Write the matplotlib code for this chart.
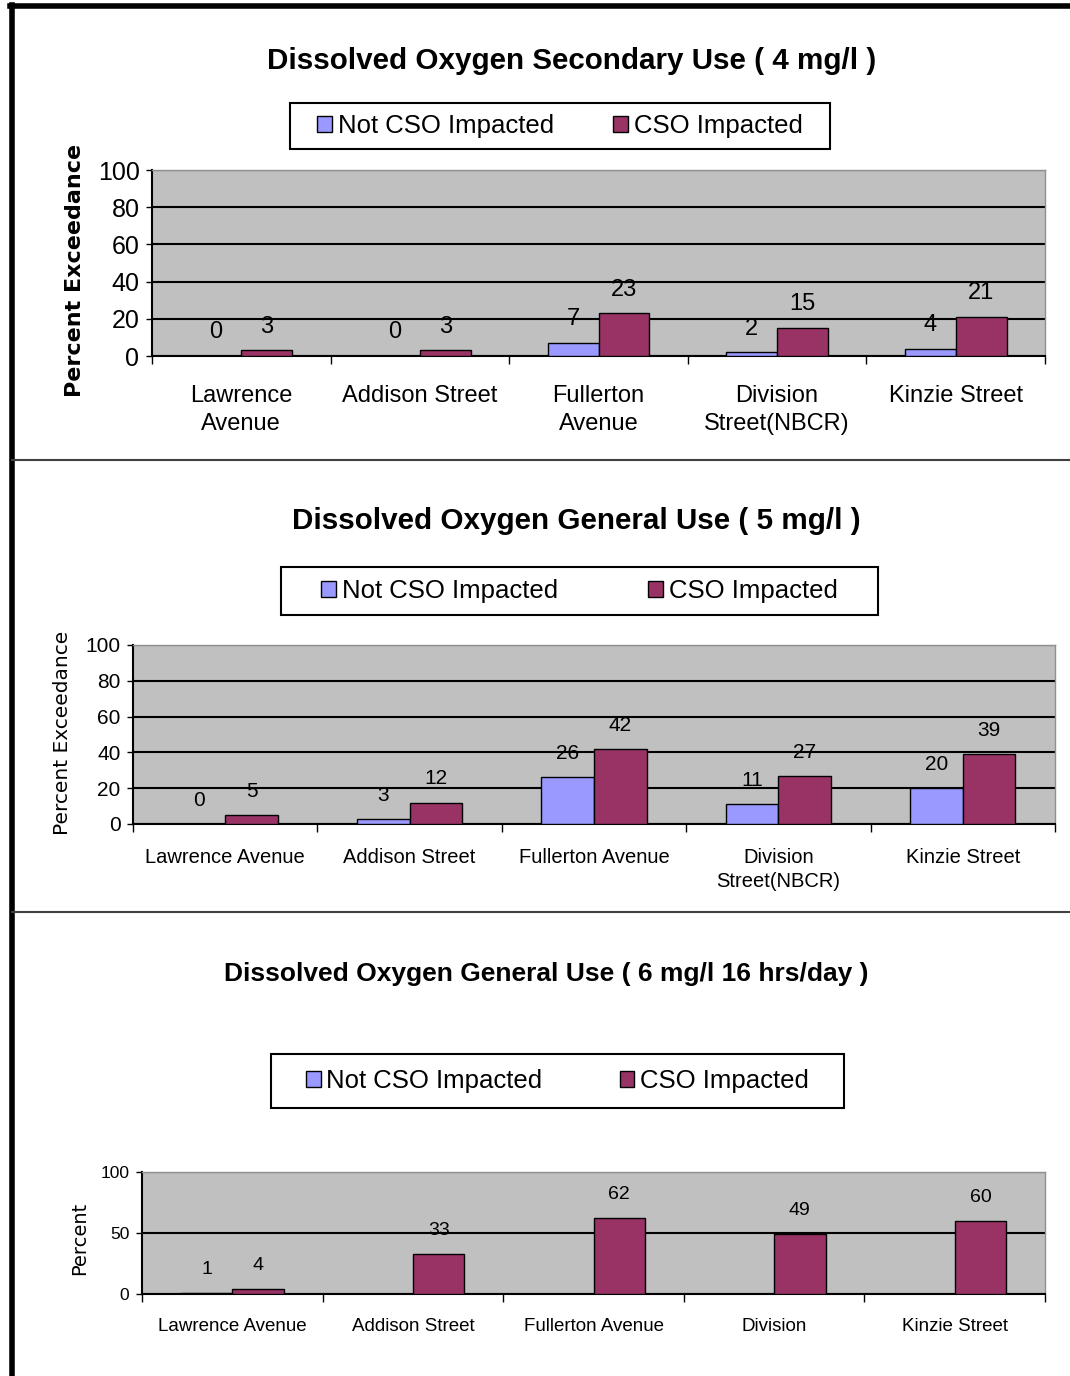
import numpy as np
import matplotlib
matplotlib.use("Agg")
import matplotlib.pyplot as plt
from matplotlib.patches import Rectangle
from matplotlib.lines import Line2D

# data
series = ["Not CSO Impacted", "CSO Impacted"]

titles = [
    "Dissolved Oxygen Secondary Use ( 4 mg/l )",
    "Dissolved Oxygen General Use ( 5 mg/l )",
    "Dissolved Oxygen General Use ( 6 mg/l 16 hrs/day )",
]

cats_1 = ["Lawrence\nAvenue", "Addison Street", "Fullerton\nAvenue", "Division\nStreet(NBCR)", "Kinzie Street"]
cats_2 = ["Lawrence Avenue", "Addison Street", "Fullerton Avenue", "Division\nStreet(NBCR)", "Kinzie Street"]
cats_3 = ["Lawrence Avenue", "Addison Street", "Fullerton Avenue", "Division", "Kinzie Street"]

not_cso_1 = [0, 0, 7, 2, 4]
cso_1 = [3, 3, 23, 15, 21]

not_cso_2 = [0, 3, 26, 11, 20]
cso_2 = [5, 12, 42, 27, 39]

not_cso_3 = [1, np.nan, np.nan, np.nan, np.nan]
cso_3 = [4, 33, 62, 49, 60]

yticks_12 = [0, 20, 40, 60, 80, 100]
yticks_3 = [0, 50, 100]

ylabels = ["Percent Exceedance", "Percent Exceedance", "Percent"]

BLUE = "#9999FF"
MAROON = "#993366"
GRAY = "#C0C0C0"
SANS = ["Liberation Sans", "DejaVu Sans"]

W, H = 1070, 1376
fig = plt.figure(figsize=(W / 100, H / 100), dpi=100)


def fx(px):
    return px / W


def fy(py):
    return 1 - py / H


def draw_panel(rect_px, cats, a, b, yticks, title, title_xy, title_fs,
               ylabel, ylabel_xy, ylabel_fs, ylabel_bold,
               tick_fs, cat_fs, val_fs, cat_pad, leg_box, leg_fs, leg_colsp):
    x0, y0, x1, y1 = rect_px
    ax = fig.add_axes([fx(x0), fy(y1), fx(x1 - x0), (y1 - y0) / H])
    ax.set_facecolor(GRAY)
    x = np.arange(len(cats))
    w = 0.285
    bars_a = ax.bar(x - w / 2, a, w, color=BLUE, edgecolor="black", linewidth=1, zorder=3)
    bars_b = ax.bar(x + w / 2, b, w, color=MAROON, edgecolor="black", linewidth=1, zorder=3)
    for bars, vals in ((bars_a, a), (bars_b, b)):
        for r, v in zip(bars, vals):
            if np.isnan(v):
                continue
            ax.annotate(f"{v:g}", (r.get_x() + r.get_width() / 2, v),
                        xytext=(0, 17), textcoords="offset points",
                        ha="center", va="center", fontsize=val_fs, family=SANS)
    ax.set_xlim(-0.5, len(cats) - 0.5)
    ax.set_ylim(0, 100)
    ax.set_yticks(yticks)
    ax.set_yticklabels([str(t) for t in yticks], fontsize=tick_fs, family=SANS)
    ax.yaxis.grid(True, color="black", linewidth=1.5, zorder=1)
    ax.set_axisbelow(True)
    ax.tick_params(axis="y", length=4, width=1, pad=5)
    ax.set_xticks(np.arange(len(cats) + 1) - 0.5)
    ax.set_xticklabels([])
    ax.tick_params(axis="x", which="major", length=6, width=1)
    ax.set_xticks(x, minor=True)
    ax.set_xticklabels(cats, minor=True, fontsize=cat_fs, family=SANS, linespacing=1.35)
    ax.tick_params(axis="x", which="minor", length=0, pad=cat_pad)
    for s in ("left", "bottom"):
        ax.spines[s].set_color("black")
        ax.spines[s].set_linewidth(1.5)
    for s in ("top", "right"):
        ax.spines[s].set_color("#909090")
        ax.spines[s].set_linewidth(1)

    fig.text(fx(title_xy[0]), fy(title_xy[1]), title, ha="center", va="center",
             fontsize=title_fs, fontweight="bold", family=SANS)
    fig.text(fx(ylabel_xy[0]), fy(ylabel_xy[1]), ylabel, ha="center", va="center",
             rotation=90, fontsize=ylabel_fs,
             fontweight="bold" if ylabel_bold else "normal", family="DejaVu Sans")

    lx0, ly0, lx1, ly1 = leg_box
    fig.patches.append(Rectangle((fx(lx0), fy(ly1)), fx(lx1 - lx0), (ly1 - ly0) / H,
                                 transform=fig.transFigure, facecolor="white",
                                 edgecolor="black", linewidth=1.5, zorder=2))
    leg = fig.legend([bars_a, bars_b], series, loc="center",
                     bbox_to_anchor=(fx((lx0 + lx1) / 2), fy((ly0 + ly1) / 2)),
                     ncol=2, frameon=False, prop={"family": SANS, "size": leg_fs},
                     handlelength=0.57, handleheight=0.57, handletextpad=0.23,
                     columnspacing=leg_colsp)
    leg.set_zorder(3)
    return ax


draw_panel((152, 170, 1045, 356), cats_1, not_cso_1, cso_1, yticks_12,
           titles[0], (572, 61), 21.3, ylabels[0], (75, 270), 16, True,
           18, 17, 17, 21, (290, 103, 830, 149), 18.5, 2.3)

draw_panel((133, 645, 1055, 824), cats_2, not_cso_2, cso_2, yticks_12,
           titles[1], (576, 521), 21.3, ylabels[1], (62, 733), 14.5, False,
           15, 14.5, 15, 17, (281, 567, 878, 615), 18.5, 3.5)

draw_panel((142, 1172, 1045, 1294), cats_3, not_cso_3, cso_3, yticks_3,
           titles[2], (546, 974), 19, ylabels[2], (80, 1238), 14, False,
           12.5, 13.5, 14, 17, (271, 1054, 844, 1108), 18.5, 3.0)

# frame lines around the pasted charts
fig.lines.append(Line2D([fx(12), fx(12)], [fy(5), fy(H)], transform=fig.transFigure,
                        color="black", linewidth=4))
fig.lines.append(Line2D([fx(10), fx(W)], [fy(6), fy(6)], transform=fig.transFigure,
                        color="black", linewidth=4))
for sep in (460, 912):
    fig.lines.append(Line2D([fx(12), fx(W)], [fy(sep), fy(sep)], transform=fig.transFigure,
                            color="#404040", linewidth=1.5))

fig.savefig("out.png", dpi=100)
